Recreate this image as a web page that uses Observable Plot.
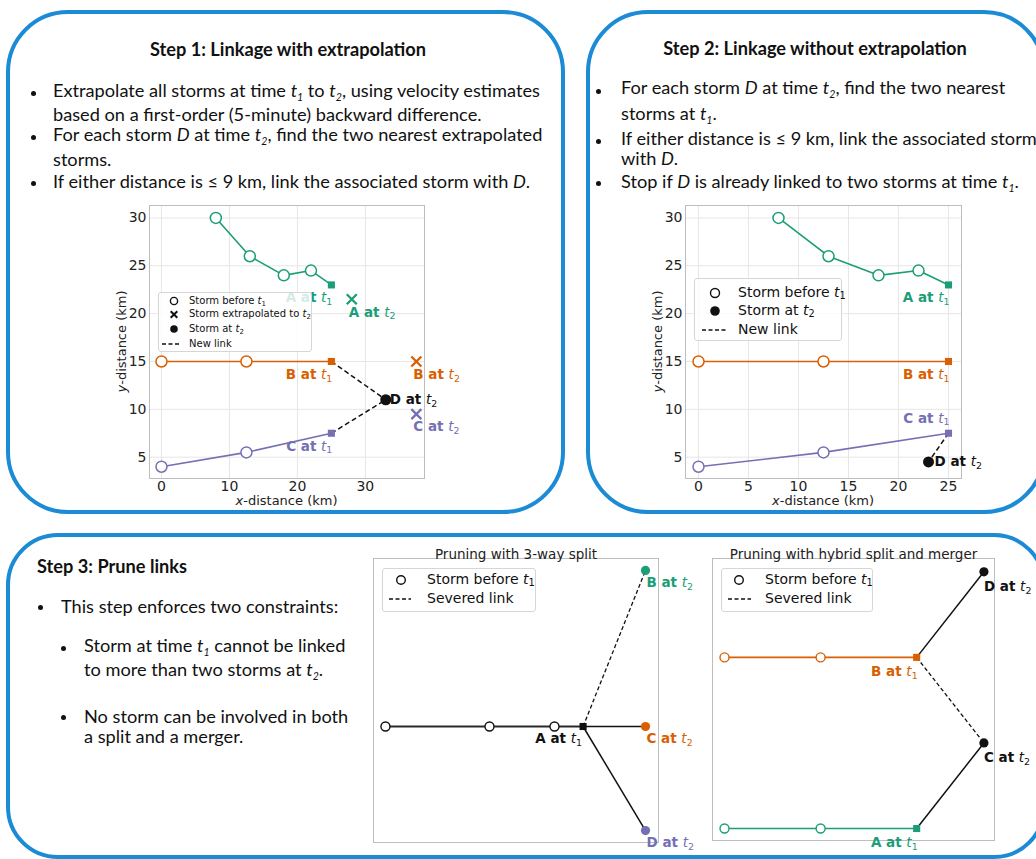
<!DOCTYPE html>
<html><head><meta charset="utf-8">
<script src="https://cdn.jsdelivr.net/npm/d3@7"></script>
<script src="https://cdn.jsdelivr.net/npm/@observablehq/plot@0.6"></script>
<style>
body{margin:0;background:#fff;}
#root{position:relative;width:1036px;height:859px;overflow:hidden;font-family:Lato,"Open Sans",sans-serif;color:#111;}
.box{position:absolute;border:4px solid #1b8bd6;box-sizing:border-box;}
.ln{position:absolute;white-space:nowrap;line-height:1;}
.ln sub{font-size:0.58em;font-style:italic;vertical-align:-0.35em;line-height:0;}
.dot{position:absolute;width:5px;height:5px;border-radius:50%;background:#111;}
.plot{position:absolute;}
.leg{position:absolute;background:rgba(255,255,255,0.8);border:1px solid #d6d6d6;border-radius:3px;box-sizing:border-box;font-family:"DejaVu Sans",sans-serif;color:#111;}
.leg .lt{position:absolute;white-space:nowrap;line-height:1;}
.leg .lt sub{font-size:0.7em;line-height:0;vertical-align:-0.25em;}
.leg svg{position:absolute;left:0;top:0;overflow:visible;}
</style></head>
<body><div id="root"></div>
<script>
// ---------------- data ----------------
const colGreen = "#1b9e77", colOrange = "#d95f02", colPurple = "#7570b3";
// Step 1 & 2: storm tracks (km); last point = storm at t1
const trackA_x = [8, 13, 18, 22, 25];
const trackA_y = [30, 26, 24, 24.5, 23];
const trackB_x = [0, 12.5, 25];
const trackB_y = [15, 15, 15];
const trackC_x = [0, 12.5, 25];
const trackC_y = [4, 5.5, 7.5];
const trackNames = ["A", "B", "C"];
const trackColors = [colGreen, colOrange, colPurple];
// Step 1: extrapolated positions at t2
const extrap_x = [28, 37.5, 37.5];
const extrap_y = [21.5, 15, 9.5];
// Step 1: new storm D at t2 and its links
const s1D_x = [33], s1D_y = [11];
const s1Links = ["B", "C"];
// Step 2: new storm D at t2 and its links
const s2D_x = [23], s2D_y = [4.5];
const s2Links = ["C"];
// ticks
const s1_xTicks = [0, 10, 20, 30];
const s2_xTicks = [0, 5, 10, 15, 20, 25];
const yTicks = [5, 10, 15, 20, 25, 30];
// Step 3a: 3-way split
const s3a_track_x = [0, 10, 16.25, 19];
const s3a_track_y = [0, 0, 0, 0];
const s3a_t2Names = ["B", "C", "D"];
const s3a_t2_x = [25, 25, 25];
const s3a_t2_y = [15, 0, -10];
const s3a_t2Colors = [colGreen, colOrange, colPurple];
const s3a_severed = [true, false, false];
// Step 3b: hybrid split and merger
const s3b_B_x = [0, 10, 20], s3b_B_y = [18, 18, 18];
const s3b_A_x = [0, 10, 20], s3b_A_y = [0, 0, 0];
const s3b_t2Names = ["D", "C"];
const s3b_t2_x = [27, 27];
const s3b_t2_y = [27, 9];
const s3b_links = [["B", "D", false], ["B", "C", true], ["A", "C", false]];

// ---------------- helpers ----------------
const root = document.getElementById("root");
function el(tag, cls, style, html) {
  const e = document.createElement(tag);
  if (cls) e.className = cls;
  Object.assign(e.style, style || {});
  if (html != null) e.innerHTML = html;
  return e;
}
function box(l, t, w, h, r) { root.appendChild(el("div", "box", {left: l+"px", top: t+"px", width: w+"px", height: h+"px", borderRadius: r+"px"})); }
const T = n => `<i>t</i><sub>${n}</sub>`;
const FS = 18.2;
function line(x, base, html, bold) {
  root.appendChild(el("div", "ln", {left: x+"px", top: (base - 0.887*FS)+"px", fontSize: FS+"px", fontWeight: bold ? "bold" : "normal"}, html));
}
function centerLine(cx, base, html, bold) {
  root.appendChild(el("div", "ln", {left: cx+"px", top: (base - 0.887*FS)+"px", fontSize: FS+"px", fontWeight: bold ? "bold" : "normal", transform: "translateX(-50%)"}, html));
}
function bullet(x, y) { root.appendChild(el("div", "dot", {left: (x-2.5)+"px", top: (y-2.5)+"px"})); }

function rows(names, xsList, ysList, colors) {
  const out = [];
  names.forEach((n, k) => xsList[k].forEach((x, i) => out.push({storm: n, x, y: ysList[k][i], color: colors[k], t1: i === xsList[k].length - 1})));
  return out;
}
function richify(svg) {
  d3.select(svg).selectAll('g[aria-label="text"] text').each(function() {
    const m = /^(.*) t([12])$/.exec(this.textContent);
    if (!m) return;
    const s = d3.select(this); s.text(null);
    s.append("tspan").attr("font-weight", "bold").text(m[1] + " ");
    s.append("tspan").attr("font-style", "italic").attr("font-weight", "normal").text("t");
    s.append("tspan").attr("font-weight", "normal").attr("font-size", "0.7em").attr("dy", "0.3em").text(m[2]);
  });
}
function axisLabels(svg, W, H, m, xdy, ydx) {
  const s = d3.select(svg);
  const cx = (m.l + W - m.r) / 2, cy = (m.t + H - m.b) / 2;
  const xl = s.append("text").attr("x", cx).attr("y", H - m.b + xdy).attr("dy", "0.35em").attr("text-anchor", "middle").attr("font-size", 13).attr("fill", "#222");
  xl.append("tspan").attr("font-style", "italic").text("x");
  xl.append("tspan").text("-distance (km)");
  const yl = s.append("text").attr("transform", `translate(${m.l - ydx},${cy}) rotate(-90)`).attr("dy", "0.35em").attr("text-anchor", "middle").attr("font-size", 13).attr("fill", "#222");
  yl.append("tspan").attr("font-style", "italic").text("y");
  yl.append("tspan").text("-distance (km)");
}
function place(svg, l, t) {
  const d = el("div", "plot", {left: l+"px", top: t+"px"});
  d.appendChild(svg); root.appendChild(d);
}
function legend(l, t, w, h, fs, items) {
  const d = el("div", "leg", {left: l+"px", top: t+"px", width: w+"px", height: h+"px", fontSize: fs+"px"});
  const ns = "http://www.w3.org/2000/svg";
  const sv = document.createElementNS(ns, "svg");
  sv.setAttribute("width", w); sv.setAttribute("height", h);
  for (const it of items) {
    const g = it.sym;
    if (g === "open" || g === "filled") {
      const c = document.createElementNS(ns, "circle");
      c.setAttribute("cx", it.sx); c.setAttribute("cy", it.y); c.setAttribute("r", it.r);
      c.setAttribute("fill", g === "open" ? "white" : "#111"); c.setAttribute("stroke", "#111"); c.setAttribute("stroke-width", g === "open" ? 1.4 : 0);
      sv.appendChild(c);
    } else if (g === "x") {
      const p = document.createElementNS(ns, "path"); const r = it.r;
      p.setAttribute("d", `M${it.sx-r},${it.y-r}L${it.sx+r},${it.y+r}M${it.sx-r},${it.y+r}L${it.sx+r},${it.y-r}`);
      p.setAttribute("stroke", "#111"); p.setAttribute("stroke-width", 2); sv.appendChild(p);
    } else if (g === "dash") {
      const p = document.createElementNS(ns, "line");
      p.setAttribute("x1", it.x1); p.setAttribute("x2", it.x2); p.setAttribute("y1", it.y); p.setAttribute("y2", it.y);
      p.setAttribute("stroke", "#111"); p.setAttribute("stroke-width", 1.5); p.setAttribute("stroke-dasharray", "4,2.5"); sv.appendChild(p);
    }
  }
  d.appendChild(sv);
  for (const it of items) d.appendChild(el("div", "lt", {left: it.tx+"px", top: (it.y - fs*0.55)+"px"}, it.label));
  root.appendChild(d);
}
const baseStyle = {fontFamily: "DejaVu Sans", fontSize: "14px", color: "#222", overflow: "visible", maxWidth: "none", background: "transparent"};

// ---------------- boxes & text ----------------
box(6, 10, 559, 504, 62);
box(586, 10, 460, 504, 62);
box(6, 533, 1040, 326, 52);

centerLine(288, 56, "Step 1: Linkage with extrapolation", true);
line(53, 97, `Extrapolate all storms at time ${T(1)} to ${T(2)}, using velocity estimates`);
line(53, 121, "based on a first-order (5-minute) backward difference.");
line(53, 141, `For each storm <i>D</i> at time ${T(2)}, find the two nearest extrapolated`);
line(53, 166, "storms.");
line(53, 188, "If either distance is ≤ 9 km, link the associated storm with <i>D</i>.");
bullet(33, 93); bullet(33, 137); bullet(33, 183);

centerLine(815, 55, "Step 2: Linkage without extrapolation", true);
line(621, 94, `For each storm <i>D</i> at time ${T(2)}, find the two nearest`);
line(621, 120, `storms at ${T(1)}.`);
line(621, 145, "If either distance is ≤ 9 km, link the associated storm");
line(621, 165, "with <i>D</i>.");
line(621, 188, `Stop if <i>D</i> is already linked to two storms at time ${T(1)}.`);
bullet(598, 91); bullet(598, 141); bullet(598, 183);

line(37, 573, "Step 3: Prune links", true);
line(61, 613, "This step enforces two constraints:");
line(84, 652, `Storm at time ${T(1)} cannot be linked`);
line(84, 676, `to more than two storms at ${T(2)}.`);
line(84, 723, "No storm can be involved in both");
line(84, 743, "a split and a merger.");
bullet(40, 607); bullet(63, 648); bullet(63, 717);

// ---------------- Plot 1: Step 1 ----------------
{
  const tr = rows(trackNames, [trackA_x, trackB_x, trackC_x], [trackA_y, trackB_y, trackC_y], trackColors);
  const t1 = tr.filter(d => d.t1);
  const ext = trackNames.map((s, i) => ({storm: s, x: extrap_x[i], y: extrap_y[i], color: trackColors[i]}));
  const D = s1D_x.map((x, i) => ({x, y: s1D_y[i]}));
  const links = s1Links.map(s => { const a = t1.find(d => d.storm === s); return {x1: a.x, y1: a.y, x2: D[0].x, y2: D[0].y}; });
  const lab1 = t1.map(d => ({x: d.x, y: d.y, text: d.storm + " at t1", color: d.color}));
  const lab2 = ext.map(d => ({x: d.x, y: d.y, text: d.storm + " at t2", color: d.color}));
  const labD = D.map(d => ({x: d.x, y: d.y, text: "D at t2"}));
  const W = 374, H = 323, m = {l: 54, t: 10, r: 45, b: 40};
  const svg = Plot.plot({
    width: W, height: H, marginLeft: m.l, marginTop: m.t, marginRight: m.r, marginBottom: m.b,
    x: {domain: [-1.76, 38.7], ticks: s1_xTicks, tickSize: 0, tickPadding: 3, label: null},
    y: {domain: [2.77, 31.3], ticks: yTicks, tickSize: 0, tickPadding: 3, label: null},
    color: {type: "identity"},
    style: baseStyle,
    marks: [
      Plot.ruleX(s1_xTicks, {stroke: "#e6e6e6"}),
      Plot.ruleY(yTicks, {stroke: "#e6e6e6"}),
      Plot.frame({stroke: "#bdbdbd"}),
      Plot.line(tr, {x: "x", y: "y", z: "storm", stroke: "color", strokeWidth: 1.6}),
      Plot.link(links, {x1: "x1", y1: "y1", x2: "x2", y2: "y2", stroke: "#111", strokeWidth: 1.5, strokeDasharray: "5,3"}),
      Plot.dot(tr.filter(d => !d.t1), {x: "x", y: "y", r: 5.5, fill: "white", stroke: "color", strokeWidth: 1.5}),
      Plot.dot(t1, {x: "x", y: "y", symbol: "square", r: 4, fill: "color"}),
      Plot.dot(ext, {x: "x", y: "y", symbol: "times", r: 4.6, stroke: "color", strokeWidth: 2.3}),
      Plot.dot(D, {x: "x", y: "y", r: 5.5, fill: "#111"}),
      Plot.text(lab1, {x: "x", y: "y", text: "text", fill: "color", textAnchor: "end", dy: 13, dx: 1, fontSize: 13.5, fontWeight: "bold"}),
      Plot.text(lab2, {x: "x", y: "y", text: "text", fill: "color", textAnchor: "start", dy: 13, dx: -3, fontSize: 13.5, fontWeight: "bold"}),
      Plot.text(labD, {x: "x", y: "y", text: "text", fill: "#111", textAnchor: "start", dx: 4, fontSize: 13.5, fontWeight: "bold"})
    ]
  });
  richify(svg); axisLabels(svg, W, H, m, 22, 28);
  place(svg, 95, 195);
  legend(158, 292, 154, 60, 10, [
    {sym: "open", sx: 15, y: 8, r: 3.6, tx: 30, label: `Storm before ${T(1)}`},
    {sym: "x", sx: 15, y: 21.5, r: 3.3, tx: 30, label: `Storm extrapolated to ${T(2)}`},
    {sym: "filled", sx: 15, y: 36, r: 3.8, tx: 30, label: `Storm at ${T(2)}`},
    {sym: "dash", x1: 3, x2: 21, y: 51, tx: 30, label: "New link"}
  ]);
}

// ---------------- Plot 2: Step 2 ----------------
{
  const tr = rows(trackNames, [trackA_x, trackB_x, trackC_x], [trackA_y, trackB_y, trackC_y], trackColors);
  const t1 = tr.filter(d => d.t1);
  const D = s2D_x.map((x, i) => ({x, y: s2D_y[i]}));
  const links = s2Links.map(s => { const a = t1.find(d => d.storm === s); return {x1: a.x, y1: a.y, x2: D[0].x, y2: D[0].y}; });
  const labBelow = t1.filter(d => d.storm !== "C").map(d => ({x: d.x, y: d.y, text: d.storm + " at t1", color: d.color}));
  const labAbove = t1.filter(d => d.storm === "C").map(d => ({x: d.x, y: d.y, text: d.storm + " at t1", color: d.color}));
  const labD = D.map(d => ({x: d.x, y: d.y, text: "D at t2"}));
  const W = 366, H = 323, m = {l: 45, t: 10, r: 45, b: 40};
  const svg = Plot.plot({
    width: W, height: H, marginLeft: m.l, marginTop: m.t, marginRight: m.r, marginBottom: m.b,
    x: {domain: [-1.3, 26.3], ticks: s2_xTicks, tickSize: 0, tickPadding: 3, label: null},
    y: {domain: [2.77, 31.3], ticks: yTicks, tickSize: 0, tickPadding: 3, label: null},
    color: {type: "identity"},
    style: baseStyle,
    marks: [
      Plot.ruleX(s2_xTicks, {stroke: "#e6e6e6"}),
      Plot.ruleY(yTicks, {stroke: "#e6e6e6"}),
      Plot.frame({stroke: "#bdbdbd"}),
      Plot.line(tr, {x: "x", y: "y", z: "storm", stroke: "color", strokeWidth: 1.6}),
      Plot.link(links, {x1: "x1", y1: "y1", x2: "x2", y2: "y2", stroke: "#111", strokeWidth: 1.5, strokeDasharray: "5,3"}),
      Plot.dot(tr.filter(d => !d.t1), {x: "x", y: "y", r: 5.5, fill: "white", stroke: "color", strokeWidth: 1.5}),
      Plot.dot(t1, {x: "x", y: "y", symbol: "square", r: 4, fill: "color"}),
      Plot.dot(D, {x: "x", y: "y", r: 5.5, fill: "#111"}),
      Plot.text(labBelow, {x: "x", y: "y", text: "text", fill: "color", textAnchor: "end", dy: 13, dx: 1, fontSize: 13.5, fontWeight: "bold"}),
      Plot.text(labAbove, {x: "x", y: "y", text: "text", fill: "color", textAnchor: "end", dy: -15, dx: 1, fontSize: 13.5, fontWeight: "bold"}),
      Plot.text(labD, {x: "x", y: "y", text: "text", fill: "#111", textAnchor: "start", dx: 6, fontSize: 13.5, fontWeight: "bold"})
    ]
  });
  richify(svg); axisLabels(svg, W, H, m, 22, 28);
  place(svg, 640, 195);
  legend(694, 278, 148, 63, 14, [
    {sym: "open", sx: 20, y: 14, r: 4.5, tx: 43, label: `Storm before ${T(1)}`},
    {sym: "filled", sx: 20, y: 32, r: 4.8, tx: 43, label: `Storm at ${T(2)}`},
    {sym: "dash", x1: 7, x2: 32, y: 51, tx: 43, label: "New link"}
  ]);
}

// ---------------- Plot 3: 3-way split ----------------
{
  const tr = s3a_track_x.map((x, i) => ({x, y: s3a_track_y[i], t1: i === s3a_track_x.length - 1}));
  const a = tr[tr.length - 1];
  const t2 = s3a_t2Names.map((n, i) => ({name: n, x: s3a_t2_x[i], y: s3a_t2_y[i], color: s3a_t2Colors[i], severed: s3a_severed[i]}));
  const links = t2.map(d => ({x1: a.x, y1: a.y, x2: d.x, y2: d.y, severed: d.severed}));
  const W = 338, H = 317, m = {l: 13, t: 23, r: 40, b: 10};
  const svg = Plot.plot({
    width: W, height: H, marginLeft: m.l, marginTop: m.t, marginRight: m.r, marginBottom: m.b,
    x: {domain: [-1.15, 26.25], axis: null},
    y: {domain: [-11.15, 16.15], axis: null},
    color: {type: "identity"},
    style: baseStyle,
    marks: [
      Plot.frame({stroke: "#bdbdbd"}),
      Plot.text(["Pruning with 3-way split"], {frameAnchor: "top", text: d => d, dy: -9, fontSize: 13.5, fill: "#222"}),
      Plot.line(tr, {x: "x", y: "y", stroke: "#2a2a2a", strokeWidth: 1.8}),
      Plot.link(links.filter(d => !d.severed), {x1: "x1", y1: "y1", x2: "x2", y2: "y2", stroke: "#111", strokeWidth: 1.5}),
      Plot.link(links.filter(d => d.severed), {x1: "x1", y1: "y1", x2: "x2", y2: "y2", stroke: "#111", strokeWidth: 1.3, strokeDasharray: "4,2.5"}),
      Plot.dot(tr.filter(d => !d.t1), {x: "x", y: "y", r: 4.5, fill: "white", stroke: "#111", strokeWidth: 1.4}),
      Plot.dot(tr.filter(d => d.t1), {x: "x", y: "y", symbol: "square", r: 4, fill: "#111"}),
      Plot.dot(t2, {x: "x", y: "y", r: 4.6, fill: "color"}),
      Plot.text([a], {x: "x", y: "y", text: () => "A at t1", fill: "#111", textAnchor: "end", dx: -1, dy: 12, fontSize: 13.5, fontWeight: "bold"}),
      Plot.text(t2, {x: "x", y: "y", text: d => d.name + " at t2", fill: "color", textAnchor: "start", dx: 1, dy: 12, fontSize: 13.5, fontWeight: "bold"})
    ]
  });
  richify(svg);
  place(svg, 360, 535);
  legend(382, 568, 154, 44, 14, [
    {sym: "open", sx: 18, y: 11, r: 4.3, tx: 44, label: `Storm before ${T(1)}`},
    {sym: "dash", x1: 6, x2: 28, y: 30, tx: 44, label: "Severed link"}
  ]);
}

// ---------------- Plot 4: hybrid split and merger ----------------
{
  const tr = rows(["B", "A"], [s3b_B_x, s3b_A_x], [s3b_B_y, s3b_A_y], [colOrange, colGreen]);
  const t1 = tr.filter(d => d.t1);
  const t2 = s3b_t2Names.map((n, i) => ({name: n, x: s3b_t2_x[i], y: s3b_t2_y[i]}));
  const links = s3b_links.map(([f, to, sev]) => { const p = t1.find(d => d.storm === f), q = t2.find(d => d.name === to); return {x1: p.x, y1: p.y, x2: q.x, y2: q.y, severed: sev}; });
  const W = 339, H = 317, m = {l: 12, t: 23, r: 45, b: 12};
  const svg = Plot.plot({
    width: W, height: H, marginLeft: m.l, marginTop: m.t, marginRight: m.r, marginBottom: m.b,
    x: {domain: [-1.25, 28.1], axis: null},
    y: {domain: [-1.26, 28.4], axis: null},
    color: {type: "identity"},
    style: baseStyle,
    marks: [
      Plot.frame({stroke: "#bdbdbd"}),
      Plot.text(["Pruning with hybrid split and merger"], {frameAnchor: "top", text: d => d, dy: -9, fontSize: 13.5, fill: "#222"}),
      Plot.line(tr, {x: "x", y: "y", z: "storm", stroke: "color", strokeWidth: 1.6}),
      Plot.link(links.filter(d => !d.severed), {x1: "x1", y1: "y1", x2: "x2", y2: "y2", stroke: "#111", strokeWidth: 1.5}),
      Plot.link(links.filter(d => d.severed), {x1: "x1", y1: "y1", x2: "x2", y2: "y2", stroke: "#111", strokeWidth: 1.3, strokeDasharray: "4,2.5"}),
      Plot.dot(tr.filter(d => !d.t1), {x: "x", y: "y", r: 4.5, fill: "white", stroke: "color", strokeWidth: 1.4}),
      Plot.dot(t1, {x: "x", y: "y", symbol: "square", r: 4, fill: "color"}),
      Plot.dot(t2, {x: "x", y: "y", r: 4.6, fill: "#111"}),
      Plot.text(t1, {x: "x", y: "y", text: d => d.storm + " at t1", fill: "color", textAnchor: "end", dx: 1, dy: 14, fontSize: 13.5, fontWeight: "bold"}),
      Plot.text(t2, {x: "x", y: "y", text: d => d.name + " at t2", fill: "#111", textAnchor: "start", dx: 0, dy: 15, fontSize: 13.5, fontWeight: "bold"})
    ]
  });
  richify(svg);
  place(svg, 700, 535);
  legend(721, 568, 152, 44, 14, [
    {sym: "open", sx: 17, y: 11, r: 4.3, tx: 43, label: `Storm before ${T(1)}`},
    {sym: "dash", x1: 6, x2: 29, y: 30, tx: 43, label: "Severed link"}
  ]);
}
</script>
</body></html>
